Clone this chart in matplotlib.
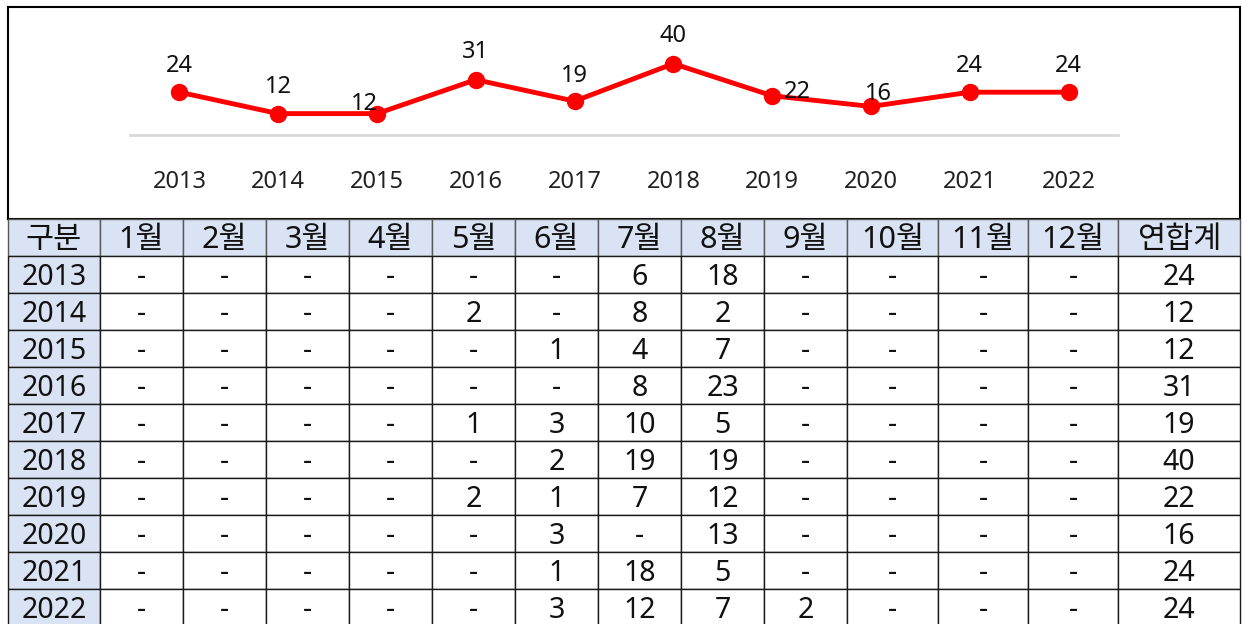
import matplotlib
matplotlib.use("Agg")
import matplotlib.pyplot as plt
from matplotlib.transforms import Affine2D

plt.rcParams['font.family'] = ['Noto Sans', 'Noto Sans CJK KR', 'DejaVu Sans']

# --- 데이터 ---
years = ['2013', '2014', '2015', '2016', '2017', '2018', '2019', '2020', '2021', '2022']
totals = [24, 12, 12, 31, 19, 40, 22, 16, 24, 24]
months = ['1월', '2월', '3월', '4월', '5월', '6월', '7월', '8월', '9월', '10월', '11월', '12월']
# 월별 건수 (None = '-')
monthly_counts = [
    [None, None, None, None, None, None, 6, 18, None, None, None, None],
    [None, None, None, None, 2, None, 8, 2, None, None, None, None],
    [None, None, None, None, None, 1, 4, 7, None, None, None, None],
    [None, None, None, None, None, None, 8, 23, None, None, None, None],
    [None, None, None, None, 1, 3, 10, 5, None, None, None, None],
    [None, None, None, None, None, 2, 19, 19, None, None, None, None],
    [None, None, None, None, 2, 1, 7, 12, None, None, None, None],
    [None, None, None, None, None, 3, None, 13, None, None, None, None],
    [None, None, None, None, None, 1, 18, 5, None, None, None, None],
    [None, None, None, None, None, 3, 12, 7, 2, None, None, None],
]

# --- 레이아웃 (픽셀 기준) ---
W, H = 1242, 624
SHADE = '#DAE3F3'
# 데이터 라벨 위치 보정 (points)
label_offsets = [(0, 19), (0, 19), (-9, 7), (0, 20), (0, 18), (0, 20), (18, 3), (5, 9), (0, 19), (0, 19)]


def fig_rect(x0, y0, x1, y1):
    # 픽셀 좌표(위쪽 원점) -> figure 좌표
    return [x0 / W, 1 - y1 / H, (x1 - x0) / W, (y1 - y0) / H]


fig = plt.figure(figsize=(W / 100, H / 100), dpi=100)

# 차트 테두리
frame = fig.add_axes(fig_rect(8, 7, 1240, 219))
frame.set_xticks([])
frame.set_yticks([])
for s in frame.spines.values():
    s.set_linewidth(1.5)
    s.set_color('black')

# 꺾은선 차트
ax = fig.add_axes(fig_rect(130, 28, 1118, 135))
x = range(len(years))
ax.plot(x, totals, color='#FF0000', linewidth=3.5, marker='o', markersize=11.5, zorder=3)
for i, v in enumerate(totals):
    dx, dy = label_offsets[i]
    ax.annotate(str(v), (i, v), xytext=(dx, dy), textcoords='offset points',
                ha='center', va='center', fontsize=17, color='#111111')
ax.set_xlim(-0.5, len(years) - 0.5)
ax.set_ylim(0, 60)
ax.set_xticks(list(x))
ax.set_xticklabels(years, fontsize=17, color='#222222')
ax.tick_params(axis='x', length=0, pad=25)
ax.set_yticks([])
for name in ['top', 'left', 'right']:
    ax.spines[name].set_visible(False)
ax.spines['bottom'].set_color('#D9D9D9')
ax.spines['bottom'].set_linewidth(2)
ax.patch.set_alpha(0)

# 표
tab_ax = fig.add_axes(fig_rect(8, 219, 1240, 626))
tab_ax.axis('off')
col_labels = ['구분'] + months + ['연합계']
cells = []
for yr, row, tot in zip(years, monthly_counts, totals):
    cells.append([yr] + ['-' if v is None else str(v) for v in row] + [str(tot)])
col_px = [92] + [83] * 9 + [91, 90, 90, 122]
col_w = [c / sum(col_px) for c in col_px]
colours = [[SHADE] + ['white'] * (len(col_labels) - 1) for _ in cells]

table = tab_ax.table(cellText=cells, colLabels=col_labels, colWidths=col_w,
                     cellColours=colours, colColours=[SHADE] * len(col_labels),
                     cellLoc='center', bbox=[0, 0, 1, 1])
table.auto_set_font_size(False)
table.set_fontsize(20.5)
for (r, c), cell in table.get_celld().items():
    cell.set_edgecolor('#1a1a1a')
    cell.set_linewidth(1.0)
    txt = cell.get_text()
    txt.set_color('#111111')
    if r == 0:
        txt.set_fontsize(22)
        cell.set_edgecolor('#595959')
    # 글자를 셀 중앙보다 약간 아래로
    txt.set_transform(Affine2D().translate(0, -3))

fig.savefig('out.png', dpi=100)
